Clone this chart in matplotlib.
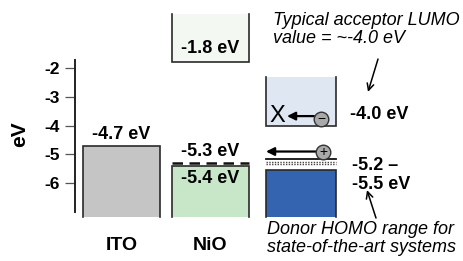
import matplotlib
matplotlib.use("Agg")
import matplotlib.pyplot as plt

plt.rcParams['font.family'] = ['Liberation Sans', 'DejaVu Sans']

# ---- data (eV) ----
categories = ["ITO", "NiO"]
ito_level = -4.7
nio_vb = -5.4
nio_fermi = -5.3
nio_cb = -1.8
acceptor_lumo = -4.0
donor_homo_line = -5.15
donor_dots = [-5.25, -5.35]
donor_band_top = -5.55
band_bottom = -7.17
box_top_nio = -0.12
box_top_acc = -2.31
yticks = [-2, -3, -4, -5, -6]
ytick_labels = ["-2", "-3", "-4", "-5", "-6"]

# ---- layout (horizontal positions in figure pixels) ----
W, H = 463, 261
px_per_ev = 28.8
y_at_m2 = 68.0  # pixel row (from top) of -2 eV
ytop = -2 + y_at_m2 / px_per_ev
ybot = -2 - (H - y_at_m2) / px_per_ev

ito_x = (83, 160)
nio_x = (172, 249)
org_x = (266, 336)

fig = plt.figure(figsize=(W / 100, H / 100), dpi=100)
ax = fig.add_axes([0, 0, 1, 1])
ax.set_xlim(0, W)
ax.set_ylim(ybot, ytop)
for s in ["top", "right", "bottom"]:
    ax.spines[s].set_visible(False)
ax.spines["left"].set_position(("data", 75))
ax.spines["left"].set_bounds(-7.0, -1.72)
ax.spines["left"].set_linewidth(1.4)
ax.spines["left"].set_color("#222222")
ax.set_xticks([])
ax.set_yticks(yticks)
ax.set_yticklabels(ytick_labels, fontsize=12.5, fontweight="bold")
ax.tick_params(axis="y", direction="out", length=7, width=0.9, pad=4, colors="#555555")
for lab in ax.get_yticklabels():
    lab.set_color("black")
ax.patch.set_alpha(0)

edge = "#2a2a2a"

def filled_box(x, y0, y1, color, top_edge=True, lw=1.2):
    l, r = x
    ax.bar((l + r) / 2, y1 - y0, bottom=y0, width=r - l, color=color,
           linewidth=0, zorder=1, clip_on=False)
    if top_edge:
        ax.plot([l, l, r, r], [y0, y1, y1, y0], color=edge, lw=lw, zorder=2,
                clip_on=False, solid_joinstyle="miter")
    else:
        ax.plot([l, l, r, r], [y1, y0, y0, y1], color=edge, lw=lw, zorder=2,
                clip_on=False, solid_joinstyle="miter")

# ITO
filled_box(ito_x, band_bottom, ito_level, "#c4c5c4")
# NiO valence band & conduction band
filled_box(nio_x, band_bottom, nio_vb, "#c8e6c8")
filled_box(nio_x, nio_cb, box_top_nio, "#f3f8f3", top_edge=False)
ax.plot(nio_x, [nio_fermi, nio_fermi], color="#111111", lw=1.8,
        dashes=(4.2, 2.6), zorder=3)
# acceptor LUMO box
filled_box(org_x, acceptor_lumo, box_top_acc, "#dfe7f3", top_edge=False)
# donor HOMO
filled_box(org_x, band_bottom, donor_band_top, "#3464b0")
ax.plot(org_x, [donor_homo_line] * 2, color="#111111", lw=1.3, zorder=3)
for d in donor_dots:
    ax.plot(org_x, [d, d], color="#444444", lw=1.0, ls=(0, (1, 1)), zorder=3)

# value labels
bold = dict(fontweight="bold", fontsize=13, color="black")
ax.annotate("-4.7 eV", (sum(ito_x) / 2, ito_level), xytext=(0, 2),
            textcoords="offset points", ha="center", va="bottom", **bold)
ax.annotate("-5.3 eV", (sum(nio_x) / 2, nio_fermi), xytext=(0, 2),
            textcoords="offset points", ha="center", va="bottom", **bold)
ax.annotate("-5.4 eV", (sum(nio_x) / 2, nio_vb), xytext=(0, -3),
            textcoords="offset points", ha="center", va="top", **bold)
ax.annotate("-1.8 eV", (sum(nio_x) / 2, nio_cb), xytext=(0, 4),
            textcoords="offset points", ha="center", va="bottom", **bold)
ax.annotate("-4.0 eV", (350, acceptor_lumo), xytext=(0, 8),
            textcoords="offset points", ha="left", va="center", **bold)
ax.text(352, -5.08, "-5.2 \u2013\n-5.5 eV", ha="left", va="top",
        linespacing=1.15, **bold)

# category labels
for name, x in zip(categories, [ito_x, nio_x]):
    ax.text(sum(x) / 2, ybot + 16 / px_per_ev, name, ha="center", va="center",
            fontsize=14, fontweight="bold")
ax.text(20, -4.3, "eV", rotation=90, ha="center", va="center",
        fontsize=15, fontweight="bold")

# electron / hole
y_e = acceptor_lumo + 0.3
ax.text(277, y_e + 0.05, "X", ha="center", va="center", fontsize=17)
ax.annotate("", xy=(287, y_e + 0.03), xytext=(314, y_e + 0.03),
            arrowprops=dict(arrowstyle="-|>", lw=1.6, color="black",
                            mutation_scale=12, shrinkA=0, shrinkB=0))
ax.plot([321], [y_e - 0.06], "o", ms=10.5, mfc="#a9a9a9", mec="#333333", mew=1.0, zorder=4)
ax.text(321, y_e - 0.08, "\u2212", ha="center", va="center", fontsize=10, zorder=5)

y_h = donor_homo_line + 0.25
ax.annotate("", xy=(266, y_h), xytext=(316, y_h),
            arrowprops=dict(arrowstyle="-|>", lw=1.6, color="black",
                            mutation_scale=12, shrinkA=0, shrinkB=0))
ax.plot([323], [y_h], "o", ms=10.5, mfc="#a9a9a9", mec="#333333", mew=1.0, zorder=4)
ax.text(323, y_h - 0.02, "+", ha="center", va="center", fontsize=10, zorder=5)

# callouts
ax.text(273, ytop - 12 / px_per_ev, "Typical acceptor LUMO\nvalue = ~-4.0 eV",
        ha="left", va="top", style="italic", fontsize=13, linespacing=1.1)
ax.annotate("", xy=(368, -2.83), xytext=(378, -1.69),
            arrowprops=dict(arrowstyle="->", lw=1.1, color="black",
                            mutation_scale=12, shrinkA=0, shrinkB=0))
ax.text(267, ybot + 40 / px_per_ev, "Donor HOMO range for\nstate-of-the-art systems",
        ha="left", va="top", style="italic", fontsize=13, linespacing=1.1)
ax.annotate("", xy=(367, -6.24), xytext=(376, -7.21),
            arrowprops=dict(arrowstyle="->", lw=1.1, color="black",
                            mutation_scale=12, shrinkA=0, shrinkB=0))

fig.savefig("out.png", dpi=100)
